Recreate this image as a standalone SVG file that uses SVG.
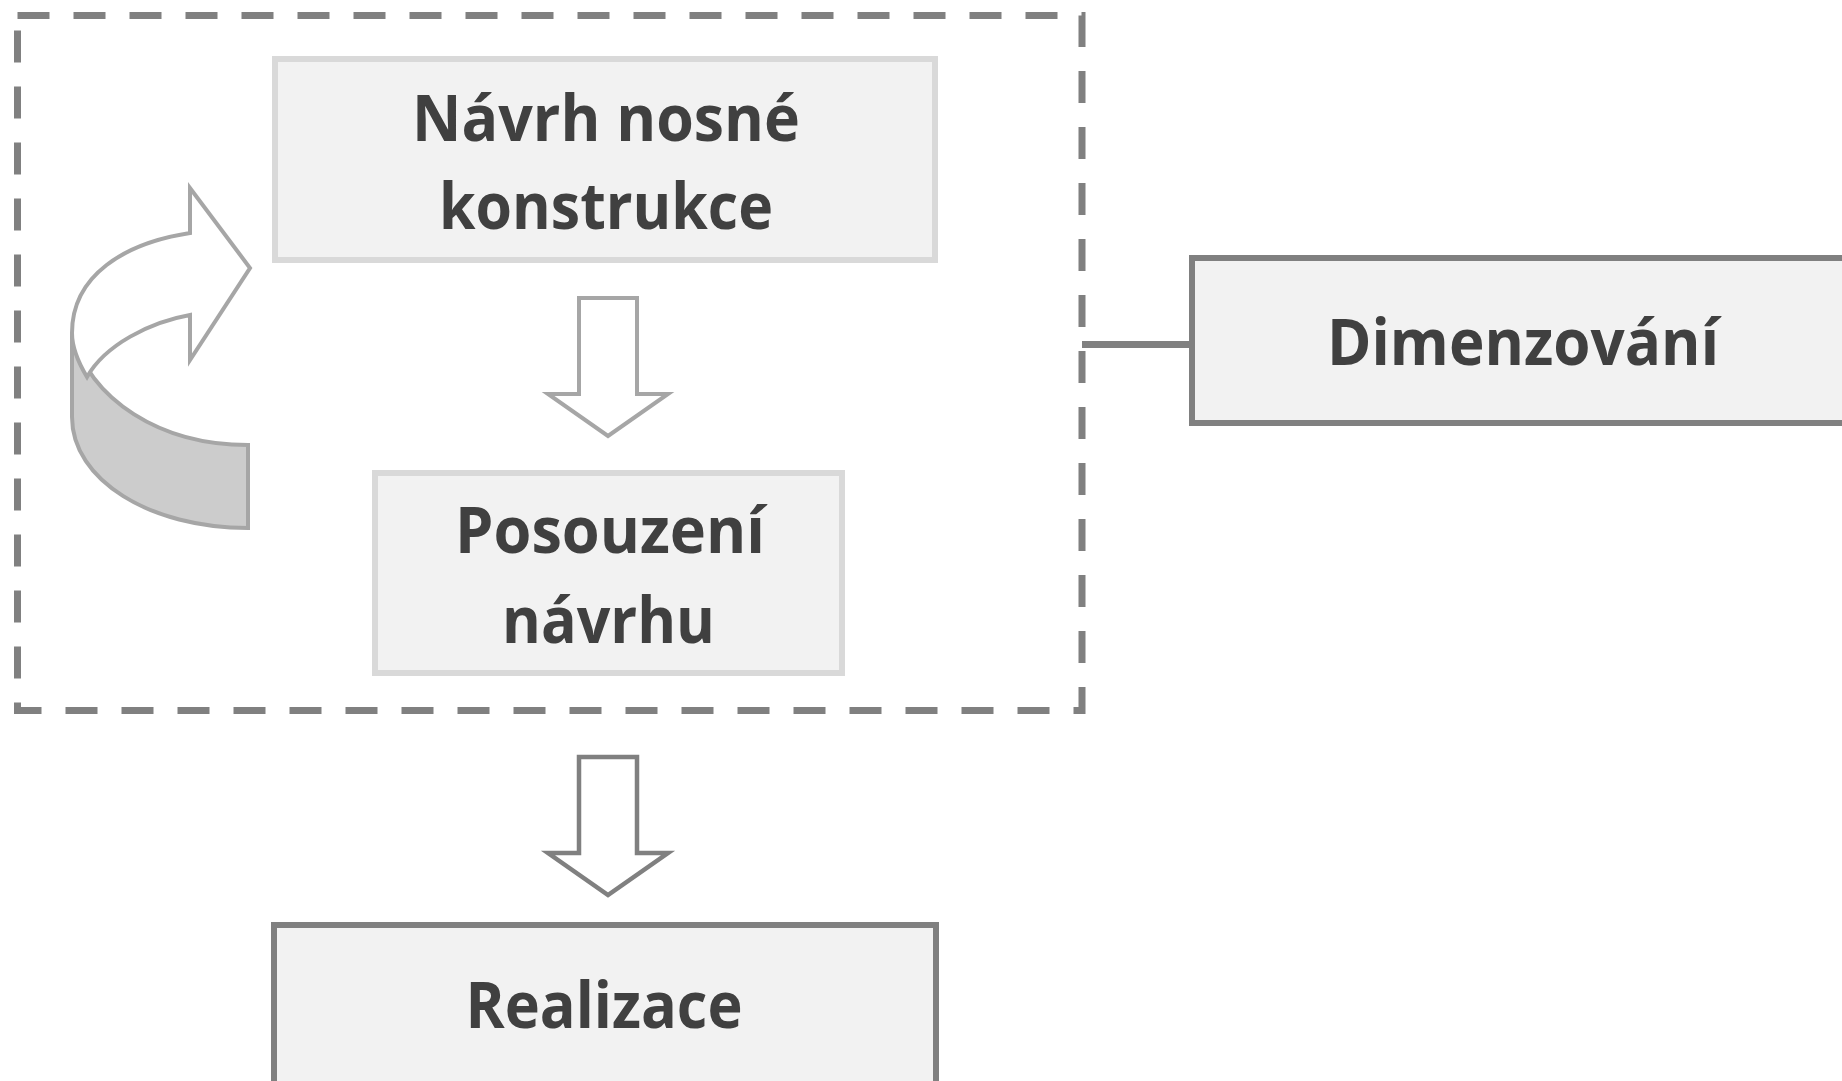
<svg xmlns="http://www.w3.org/2000/svg" width="1842" height="1081" viewBox="0 0 1842 1081">
<style>
.lbl{font-family:'Open Sans','Noto Sans','Liberation Sans',sans-serif;font-weight:700;font-size:65px;fill:#404040;text-anchor:middle}
.light{fill:#f2f2f2;stroke:#d9d9d9;stroke-width:6}
.dark{fill:#f2f2f2;stroke:#808080;stroke-width:6}
</style>
<rect width="1842" height="1081" fill="#ffffff"/>
<g id="group-box">
<rect x="17.5" y="15.5" width="1064.5" height="695" fill="none" stroke="#808080" stroke-width="7" stroke-dasharray="32 24"/>
</g>
<g id="connectors">
<line x1="1082" y1="344.5" x2="1189" y2="344.5" stroke="#808080" stroke-width="7"/>
<path d="M579,298 L637,298 L637,394 L668,394 L608,436 L548,394 L579,394 Z" fill="#ffffff" stroke="#a6a6a6" stroke-width="4" stroke-linejoin="miter"/>
<path d="M579,757 L637,757 L637,853 L668,853 L608,895 L548,853 L579,853 Z" fill="#ffffff" stroke="#808080" stroke-width="4.5" stroke-linejoin="miter"/>
<g id="loop-arrow">
<path d="M72,333 L72,417 C72,480 150,528 248,528 L248,445 C160,445 90,400 72,333 Z" fill="#cccccc" stroke="#a6a6a6" stroke-width="4"/>
<path d="M190,233 L190,188 L250,268 L190,360 L190,315 C150,322 105,345 87,377 C78,362 72,348 72,333 C72,275 125,243 190,233 Z" fill="#ffffff" stroke="#a6a6a6" stroke-width="4"/>
</g>
</g>
<g id="node-navrh">
<rect class="light" x="275" y="59" width="660" height="201"/>
<text class="lbl" x="606" y="141" textLength="388" lengthAdjust="spacingAndGlyphs">Návrh nosné</text>
<text class="lbl" x="606" y="229" textLength="334" lengthAdjust="spacingAndGlyphs">konstrukce</text>
</g>
<g id="node-posouzeni">
<rect class="light" x="375" y="473" width="467" height="200"/>
<text class="lbl" x="610" y="553" textLength="310" lengthAdjust="spacingAndGlyphs">Posouzení</text>
<text class="lbl" x="608.5" y="643" textLength="213" lengthAdjust="spacingAndGlyphs">návrhu</text>
</g>
<g id="node-realizace">
<rect class="dark" x="274" y="925" width="662" height="170"/>
<text class="lbl" x="604" y="1028" textLength="277" lengthAdjust="spacingAndGlyphs">Realizace</text>
</g>
<g id="node-dimenzovani">
<rect class="dark" x="1192" y="258" width="680" height="165"/>
<text class="lbl" x="1523" y="365" textLength="392" lengthAdjust="spacingAndGlyphs">Dimenzování</text>
</g>
</svg>
